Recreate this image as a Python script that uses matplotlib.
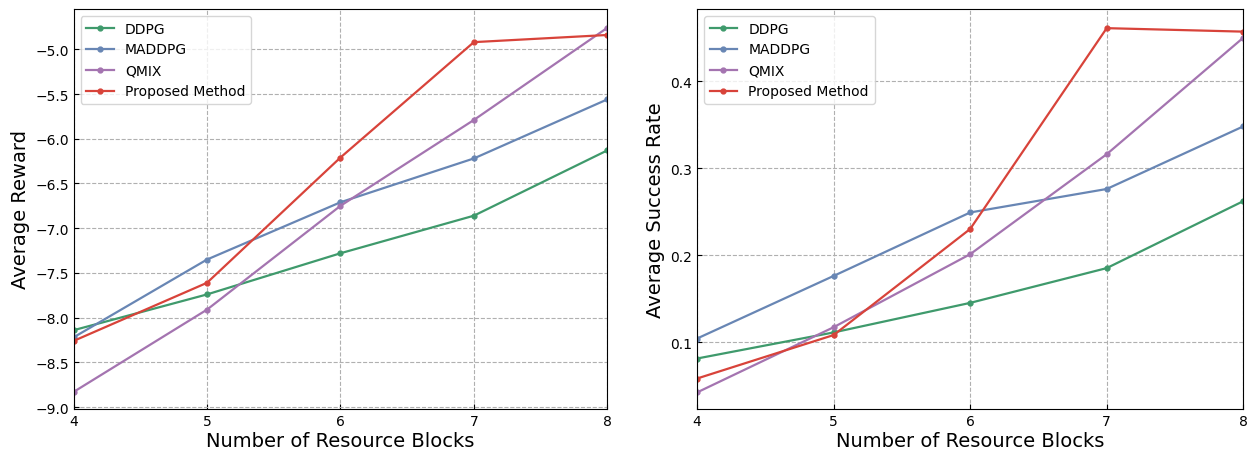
import matplotlib
matplotlib.use("Agg")
import matplotlib.pyplot as plt

blocks = [4, 5, 6, 7, 8]

reward_ddpg = [-8.14, -7.74, -7.28, -6.86, -6.13]
reward_maddpg = [-8.22, -7.35, -6.71, -6.22, -5.56]
reward_qmix = [-8.83, -7.91, -6.75, -5.79, -4.76]
reward_proposed = [-8.26, -7.61, -6.21, -4.92, -4.84]

success_ddpg = [0.081, 0.111, 0.145, 0.185, 0.262]
success_maddpg = [0.104, 0.176, 0.249, 0.276, 0.348]
success_qmix = [0.042, 0.117, 0.201, 0.316, 0.450]
success_proposed = [0.058, 0.108, 0.230, 0.461, 0.457]

names = ["DDPG", "MADDPG", "QMIX", "Proposed Method"]
colors = ["#3f9a6c", "#6886b4", "#a474b0", "#d8433a"]

fig = plt.figure(figsize=(12.47, 4.56), dpi=100)
ax1 = fig.add_axes([0.059, 0.101, 0.428, 0.877])
ax2 = fig.add_axes([0.559, 0.101, 0.438, 0.877])

for ax, series, ylabel, ylim in [
    (ax1, [reward_ddpg, reward_maddpg, reward_qmix, reward_proposed],
     "Average Reward", (-9.02, -4.55)),
    (ax2, [success_ddpg, success_maddpg, success_qmix, success_proposed],
     "Average Success Rate", (0.023, 0.483)),
]:
    for vals, name, c in zip(series, names, colors):
        ax.plot(blocks, vals, "-o", color=c, label=name, linewidth=1.6,
                markersize=3.5, clip_on=True)
    ax.set_xlim(4, 8)
    ax.set_ylim(*ylim)
    ax.set_xticks(blocks)
    ax.set_xlabel("Number of Resource Blocks", fontsize=14, labelpad=2)
    ax.set_ylabel(ylabel, fontsize=14, labelpad=4)
    ax.tick_params(direction="in", labelsize=10)
    ax.grid(linestyle="--", linewidth=0.8, color="#b0b0b0")
    ax.legend(loc="upper left", fontsize=10, frameon=True)

fig.savefig("out.png", dpi=100)
